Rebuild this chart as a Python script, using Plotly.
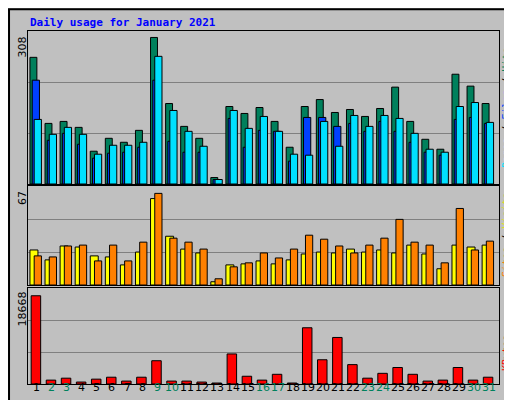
import plotly.graph_objects as go

days = list(range(1, 32))
hits = [255,122,126,114,66,92,84,108,295,162,116,92,13,156,142,154,126,74,156,170,144,150,136,152,195,126,90,70,221,197,162]
files = [209,88,102,80,52,62,64,74,209,86,64,64,9,132,74,108,106,46,134,134,116,122,106,126,106,84,64,58,130,134,122]
pages = [130,100,114,100,60,78,78,84,257,148,106,76,9,148,112,136,106,60,58,126,76,138,116,138,132,102,70,64,156,164,124]
sites = [23.7,17,26.4,25.7,19.7,19,13.6,22.3,58.5,33,24.3,21.7,2.2,13.6,14.3,16.3,14.3,17,21,22.3,21.7,24.3,22.3,23.7,21.7,27,21,11,27,25.7,27]
visits = [19.7,19,26.4,27,16.3,27,16.3,29,62,31.7,29,24.3,4.2,12.3,15,21.7,18.3,24.3,33.7,31,26.4,21.7,27,31.7,44.4,29,27,15,51.8,23.7,29.7]
kbytes = [17160,754,1131,377,943,1320,566,1320,4525,566,566,377,189,5846,1508,754,1886,189,10937,4714,9051,3771,1131,2074,3206,1886,566,754,3206,754,1320]
weekend = [2,3,9,10,16,17,23,24,30,31]
max_hits, max_visits, max_kb = 308, 67, 18668

def yd(top, bottom):
    return [1 - bottom / 400, 1 - top / 400]

line = dict(color="black", width=1)
fig = go.Figure()
fig.add_bar(x=days, y=hits, width=0.46, offset=-0.52, marker=dict(color="#00805c", line=line), xaxis="x", yaxis="y")
fig.add_bar(x=days, y=files, width=0.48, offset=-0.37, marker=dict(color="#0040ff", line=line), xaxis="x", yaxis="y")
fig.add_bar(x=days, y=pages, width=0.48, offset=-0.24, marker=dict(color="#00e0ff", line=line), xaxis="x", yaxis="y")
fig.add_bar(x=days, y=sites, width=0.53, offset=-0.52, marker=dict(color="#ffff00", line=line), xaxis="x2", yaxis="y2")
fig.add_bar(x=days, y=visits, width=0.48, offset=-0.24, marker=dict(color="#ff8000", line=line), xaxis="x2", yaxis="y2")
fig.add_bar(x=days, y=kbytes, width=0.63, offset=-0.44, marker=dict(color="#ff0000", line=line), xaxis="x3", yaxis="y3")

xcommon = dict(range=[0.35, 31.6], showgrid=False, zeroline=False, domain=[20 / 512, 491 / 512],
               showline=True, linecolor="black", mirror=True, showticklabels=False)
ycommon = dict(showticklabels=False, ticks="", gridcolor="#808080", zeroline=False,
               showline=True, linecolor="black", mirror=True)
fig.update_layout(
    width=512, height=400, margin=dict(l=0, r=0, t=0, b=0),
    paper_bgcolor="#c0c0c0", plot_bgcolor="#c0c0c0",
    barmode="overlay", showlegend=False,
    font=dict(family="DejaVu Sans Mono", size=11, color="black"),
    xaxis=dict(xcommon, anchor="y"),
    xaxis2=dict(xcommon, anchor="y2"),
    xaxis3=dict(xcommon, anchor="y3"),
    yaxis=dict(ycommon, anchor="x", domain=yd(23, 176), range=[0, max_hits], tickvals=[max_hits / 3, 2 * max_hits / 3]),
    yaxis2=dict(ycommon, anchor="x2", domain=yd(178, 277), range=[0, max_visits], tickvals=[max_visits / 3, 2 * max_visits / 3]),
    yaxis3=dict(ycommon, anchor="x3", domain=yd(280, 376), range=[0, max_kb], tickvals=[max_kb / 3, 2 * max_kb / 3]),
)

# day labels under the bottom panel
for d in days:
    fig.add_annotation(x=d - 0.08, y=1 - 388 / 400, xref="x3", yref="paper", text=str(d), showarrow=False,
                       font=dict(family="DejaVu Sans", size=11, color="#00805c" if d in weekend else "black"))

fig.add_shape(type="rect", xref="paper", yref="paper", x0=500 / 512, x1=1, y0=0, y1=1, fillcolor="#808080", line_width=0, layer="below")
fig.add_shape(type="rect", xref="paper", yref="paper", x0=0.002, x1=0.998, y0=0.003, y1=0.997, line=dict(color="black", width=2))

fig.add_annotation(x=20 / 512, y=1 - 15 / 400, xref="paper", yref="paper", xanchor="left", yanchor="middle",
                   text="<b>Daily usage for January 2021</b>", showarrow=False,
                   font=dict(family="DejaVu Sans Mono", size=11, color="#0000ff"))
for val, ytop in [(max_hits, 27), (max_visits, 181), (max_kb, 282)]:
    fig.add_annotation(x=14 / 512, y=1 - ytop / 400, xref="paper", yref="paper", xanchor="center", yanchor="top",
                       text=str(val), textangle=-90, showarrow=False, font=dict(family="DejaVu Sans", size=11))
right = [
    ("<span style='color:#00e0ff'>Pages</span> / <span style='color:#0040ff'>Files</span> / <span style='color:#00805c'>Hits</span>", 100),
    ("<span style='color:#ff8000'>Sites</span> / <span style='color:#e8e800'>Visits</span>", 227),
    ("<span style='color:#ff0000'>KBytes</span>", 345),
]
for txt, yc in right:
    fig.add_annotation(x=498 / 512, y=1 - yc / 400, xref="paper", yref="paper", xanchor="center", yanchor="middle",
                       text=txt, textangle=-90, showarrow=False, font=dict(family="DejaVu Sans Mono", size=10, color="black"))

fig.write_html("out.html")
